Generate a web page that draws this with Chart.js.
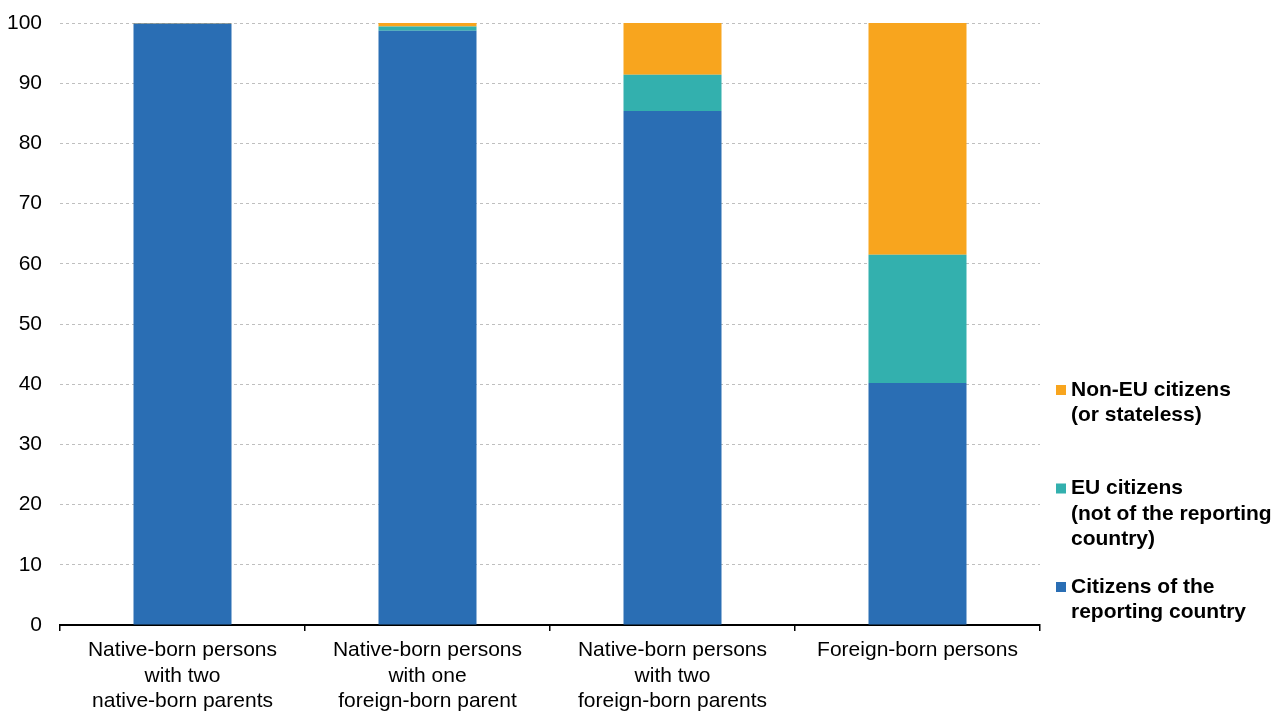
<!DOCTYPE html>
<html>
<head>
<meta charset="utf-8">
<script src="https://cdn.jsdelivr.net/npm/chart.js@4/dist/chart.umd.min.js"></script>
<style>
html,body{margin:0;padding:0;background:#fff;}
#wrap{width:1279px;height:711px;position:relative;}
</style>
</head>
<body>
<div id="wrap"><canvas id="c" width="1279" height="711"></canvas></div>
<script>
const categories = [
  ["Native-born persons", "with two", "native-born parents"],
  ["Native-born persons", "with one", "foreign-born parent"],
  ["Native-born persons", "with two", "foreign-born parents"],
  ["Foreign-born persons"]
];
const citizensReporting = [99.9, 98.7, 85.4, 40.2];
const euCitizens = [0.0, 0.7, 6.0, 21.3];
const nonEuCitizens = [0.1, 0.6, 8.6, 38.5];
const seriesLabels = [
  ["Citizens of the", "reporting country"],
  ["EU citizens", "(not of the reporting", "country)"],
  ["Non-EU citizens", "(or stateless)"]
];
const yTicks = [0, 10, 20, 30, 40, 50, 60, 70, 80, 90, 100];

const colors = ["#2A6EB4", "#33B0AE", "#F8A51E"];
const FONT = "'Liberation Sans', Arial, sans-serif";

const legendPlugin = {
  id: 'sideLegend',
  afterDraw(chart) {
    const ctx = chart.ctx;
    const ds = chart.data.datasets;
    const x0 = 1056, pitch = 98.5, lineH = 25.5;
    let y = 390;
    ctx.save();
    ctx.font = "bold 21px " + FONT;
    ctx.textBaseline = 'middle';
    ctx.textAlign = 'left';
    for (let i = ds.length - 1; i >= 0; i--) {
      const lines = ds[i].label;
      ctx.fillStyle = ds[i].backgroundColor;
      ctx.fillRect(x0, y - 5, 10, 10);
      ctx.fillStyle = '#000';
      lines.forEach((t, k) => ctx.fillText(t, x0 + 15, y + k * lineH));
      y += pitch;
    }
    ctx.restore();
  }
};

new Chart(document.getElementById('c'), {
  type: 'bar',
  data: {
    labels: categories,
    datasets: [
      { label: seriesLabels[0], data: citizensReporting, backgroundColor: colors[0] },
      { label: seriesLabels[1], data: euCitizens, backgroundColor: colors[1] },
      { label: seriesLabels[2], data: nonEuCitizens, backgroundColor: colors[2] }
    ]
  },
  options: {
    responsive: false,
    animation: false,
    devicePixelRatio: 1,
    layout: { padding: { top: 23, right: 239, bottom: 0, left: 0 } },
    datasets: { bar: { categoryPercentage: 1.0, barPercentage: 0.4, borderWidth: 0 } },
    plugins: {
      legend: { display: false },
      tooltip: { enabled: false }
    },
    scales: {
      x: {
        stacked: true,
        offset: true,
        grid: {
          display: true,
          drawOnChartArea: false,
          drawTicks: true,
          tickLength: 6,
          color: '#000',
          lineWidth: 1.5,
          offset: true
        },
        border: { display: true, color: '#000', width: 2 },
        ticks: {
          color: '#000',
          font: { family: FONT, size: 21, lineHeight: 1.2 },
          padding: 7,
          maxRotation: 0,
          autoSkip: false
        },
        afterFit(scale) { scale.height = 86; scale.paddingLeft = 0; scale.paddingRight = 0; }
      },
      y: {
        stacked: true,
        min: 0,
        max: 100,
        afterBuildTicks(scale) { scale.ticks = yTicks.map(v => ({ value: v })); },
        grid: {
          color: '#bfbfbf',
          lineWidth: 1,
          drawTicks: false
        },
        border: { display: false, dash: [3, 3] },
        ticks: {
          color: '#000',
          font: { family: FONT, size: 21 },
          padding: 18
        },
        afterFit(scale) { scale.width = 60; scale.paddingTop = 0; scale.paddingBottom = 0; }
      }
    }
  },
  plugins: [legendPlugin]
});
</script>
</body>
</html>
